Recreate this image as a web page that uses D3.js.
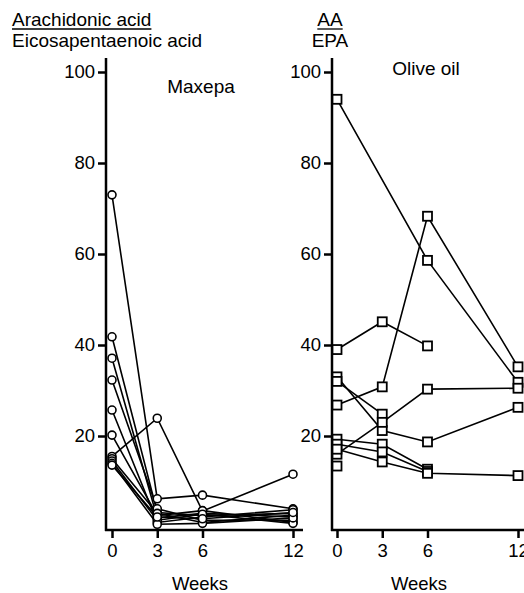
<!DOCTYPE html>
<html>
<head>
<meta charset="utf-8">
<script src="https://cdn.jsdelivr.net/npm/d3@7"></script>
<style>
  body { margin: 0; background: #fff; }
  text { font-family: "Liberation Sans", Arial, Helvetica, sans-serif; fill: #000; }
</style>
</head>
<body>
<svg id="chart" width="524" height="593"></svg>
<script>
// weeks at which the ratio was measured
const weeks = [0, 3, 6, 12];
const yTicks = [20, 40, 60, 80, 100];

// AA / EPA ratio, one row per patient (null = not measured)
const maxepa = [
    [73.0, 6.2, 7.0, 4.0],
    [15.5, 23.9, 3.5, 11.6],
    [41.8, 3.2, 2.5, 3.0],
    [37.1, 2.0, 3.0, 2.2],
    [32.3, 4.0, 1.5, 1.5],
    [25.7, 1.0, 2.2, 3.8],
    [20.2, 2.5, 3.6, 1.0],
    [15.0, 3.0, 1.0, 2.6],
    [14.5, 1.5, 2.8, 0.8],
    [14.0, 0.6, 0.8, 2.0],
    [13.6, 2.2, 1.8, 3.2]
];
const oliveOil = [
    [94.0, null, 58.6, 31.8],
    [26.8, 30.8, 68.3, 35.2],
    [39.0, 45.1, 39.8, null],
    [33.0, 21.2, 18.7, 26.3],
    [32.0, 24.8, null, null],
    [16.0, 23.0, 30.3, 30.5],
    [19.3, 18.2, 12.7, null],
    [18.2, 16.5, 12.2, null],
    [17.1, 14.3, 11.8, 11.3],
    [13.4, null, null, null]
];

const svg = d3.select('#chart');
const y = d3.scaleLinear().domain([0, 100]).range([527, 72]);

function drawPanel(opts) {
    let x = d3.scaleLinear().domain([0, 12]).range([opts.x0, opts.x0 + 181]);
    let g = svg.append('g');

    // axes lines
    g.append('line')
        .attr('x1', opts.axisX).attr('x2', opts.axisX)
        .attr('y1', 58).attr('y2', 531)
        .attr('stroke', '#000').attr('stroke-width', 2.5);
    g.append('line')
        .attr('x1', opts.axisX - 1).attr('x2', opts.xEnd)
        .attr('y1', 530).attr('y2', 530)
        .attr('stroke', '#000').attr('stroke-width', 2.5);

    let yAxis = g.append('g')
        .attr('transform', `translate(${opts.axisX},0)`)
        .call(d3.axisLeft(y).tickValues(yTicks).tickSize(8).tickSizeOuter(0).tickPadding(3));
    yAxis.select('.domain').remove();
    yAxis.selectAll('line').attr('stroke-width', 2.5);
    yAxis.selectAll('text').style('font-size', '18.5px').attr('font-family', null);

    let xAxis = g.append('g')
        .attr('transform', 'translate(0,530)')
        .call(d3.axisBottom(x).tickValues(weeks).tickSize(8).tickSizeOuter(0).tickPadding(6));
    xAxis.select('.domain').remove();
    xAxis.selectAll('line').attr('stroke-width', 2.5);
    xAxis.selectAll('text').style('font-size', '18.5px').attr('font-family', null);

    g.append('text')
        .attr('x', opts.weeksX).attr('y', 590)
        .attr('text-anchor', 'middle')
        .style('font-size', '18.5px')
        .text('Weeks');

    g.append('text')
        .attr('x', opts.labelX).attr('y', opts.labelY)
        .attr('text-anchor', 'middle')
        .style('font-size', '19px')
        .text(opts.label);

    // skip missing visits but keep the patient's line joined
    let line = d3.line()
        .x(d => x(d[0]))
        .y(d => y(d[1]));
    let rows = opts.data.map(row => row
        .map((v, i) => [weeks[i], v])
        .filter(d => d[1] != null));

    g.append('g').selectAll('path').data(rows).join('path')
        .attr('d', d => line(d))
        .attr('fill', 'none')
        .attr('stroke', '#000')
        .attr('stroke-width', 1.6);

    let pts = rows.flat();

    if (opts.marker === 'circle') {
        g.append('g').selectAll('circle').data(pts).join('circle')
            .attr('cx', d => x(d[0]))
            .attr('cy', d => y(d[1]))
            .attr('r', 4)
            .attr('fill', '#fff')
            .attr('stroke', '#000')
            .attr('stroke-width', 1.6);
    } else {
        g.append('g').selectAll('rect').data(pts).join('rect')
            .attr('x', d => x(d[0]) - 4.5)
            .attr('y', d => y(d[1]) - 4.5)
            .attr('width', 9)
            .attr('height', 9)
            .attr('fill', '#fff')
            .attr('stroke', '#000')
            .attr('stroke-width', 1.8);
    }
}

drawPanel({ x0: 112, axisX: 106, xEnd: 303, data: maxepa, marker: 'circle',
    label: 'Maxepa', labelX: 201, labelY: 93, weeksX: 200 });
drawPanel({ x0: 337, axisX: 332, xEnd: 524, data: oliveOil, marker: 'square',
    label: 'Olive oil', labelX: 426, labelY: 75, weeksX: 419 });

// ratio titles with a fraction bar
function ratioTitle(top, bottom, cx, anchor) {
    let t1 = svg.append('text').attr('x', cx).attr('y', 26)
        .attr('text-anchor', anchor).style('font-size', '19px').text(top);
    svg.append('text').attr('x', cx).attr('y', 47)
        .attr('text-anchor', anchor).style('font-size', '19px').text(bottom);
    let w = t1.node().getComputedTextLength();
    let left = anchor === 'middle' ? cx - w / 2 : cx;
    svg.append('line')
        .attr('x1', left).attr('x2', left + w)
        .attr('y1', 29).attr('y2', 29)
        .attr('stroke', '#000').attr('stroke-width', 1.3);
}
ratioTitle('Arachidonic acid', 'Eicosapentaenoic acid', 12, 'start');
ratioTitle('AA', 'EPA', 330, 'middle');
</script>
</body>
</html>
